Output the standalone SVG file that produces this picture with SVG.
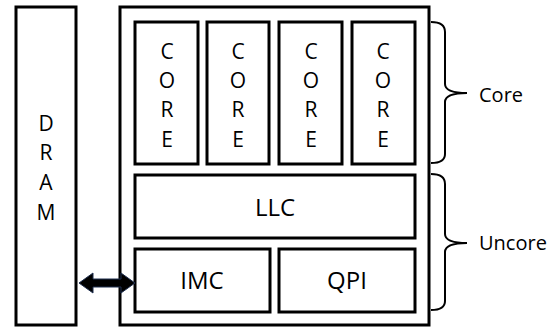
<svg xmlns="http://www.w3.org/2000/svg" width="553" height="327" viewBox="0 0 553 327">
<style>
.box{fill:#fff;stroke:#000;stroke-width:3}
.t{font-family:"Open Sans","Noto Sans","DejaVu Sans",sans-serif;font-size:21px;fill:#000;text-anchor:middle}
.b{font-family:"Open Sans","Noto Sans","DejaVu Sans",sans-serif;font-size:24px;fill:#000;text-anchor:middle}
.l{font-family:"Open Sans","Noto Sans","DejaVu Sans",sans-serif;font-size:20px;fill:#000}
.brace{fill:none;stroke:#000;stroke-width:2}
</style>
<rect width="553" height="327" fill="#fff"/>
<g id="dram">
<rect class="box" x="16" y="7" width="60" height="318"/>
<text class="t" x="46" y="131">D</text>
<text class="t" x="46" y="160">R</text>
<text class="t" x="46" y="190">A</text>
<text class="t" x="46" y="220">M</text>
</g>
<g id="chip">
<rect class="box" x="120" y="7" width="309" height="318"/>
</g>
<g id="core1">
<rect class="box" x="135" y="22" width="63" height="142"/>
<text class="t" x="167" y="59">C</text><text class="t" x="167" y="88">O</text><text class="t" x="167" y="117">R</text><text class="t" x="167" y="147">E</text>
</g>
<g id="core2">
<rect class="box" x="207" y="22" width="62" height="142"/>
<text class="t" x="238" y="59">C</text><text class="t" x="238" y="88">O</text><text class="t" x="238" y="117">R</text><text class="t" x="238" y="147">E</text>
</g>
<g id="core3">
<rect class="box" x="279" y="22" width="63" height="142"/>
<text class="t" x="311" y="59">C</text><text class="t" x="311" y="88">O</text><text class="t" x="311" y="117">R</text><text class="t" x="311" y="147">E</text>
</g>
<g id="core4">
<rect class="box" x="352" y="22" width="63" height="142"/>
<text class="t" x="383" y="59">C</text><text class="t" x="383" y="88">O</text><text class="t" x="383" y="117">R</text><text class="t" x="383" y="147">E</text>
</g>
<g id="llc">
<rect class="box" x="135" y="175" width="280" height="63"/>
<text class="b" x="275" y="216">LLC</text>
</g>
<g id="imc">
<rect class="box" x="135" y="249" width="135" height="63"/>
<text class="b" x="202" y="289">IMC</text>
</g>
<g id="qpi">
<rect class="box" x="279" y="249" width="136" height="63"/>
<text class="b" x="347" y="289">QPI</text>
</g>
<g id="core-brace">
<path class="brace" d="M431,22 Q445,22 445,32 L445,84 Q445,93 467,93 Q445,93 445,102 L445,154 Q445,163 431,163"/>
<text class="l" x="479" y="102">Core</text>
</g>
<g id="uncore-brace">
<path class="brace" d="M431,174 Q445,174 445,184 L445,234 Q445,243 467,243 Q445,243 445,252 L445,301 Q445,310 431,310"/>
<text class="l" x="479" y="250">Uncore</text>
</g>
<g id="connectors">
<path d="M79,283 L93,273 L93,279 L121,279 L121,273 L135,283 L121,293 L121,287 L93,287 L93,293 Z" fill="#000" stroke="#1f2f4f" stroke-width="1"/>
</g>
</svg>
